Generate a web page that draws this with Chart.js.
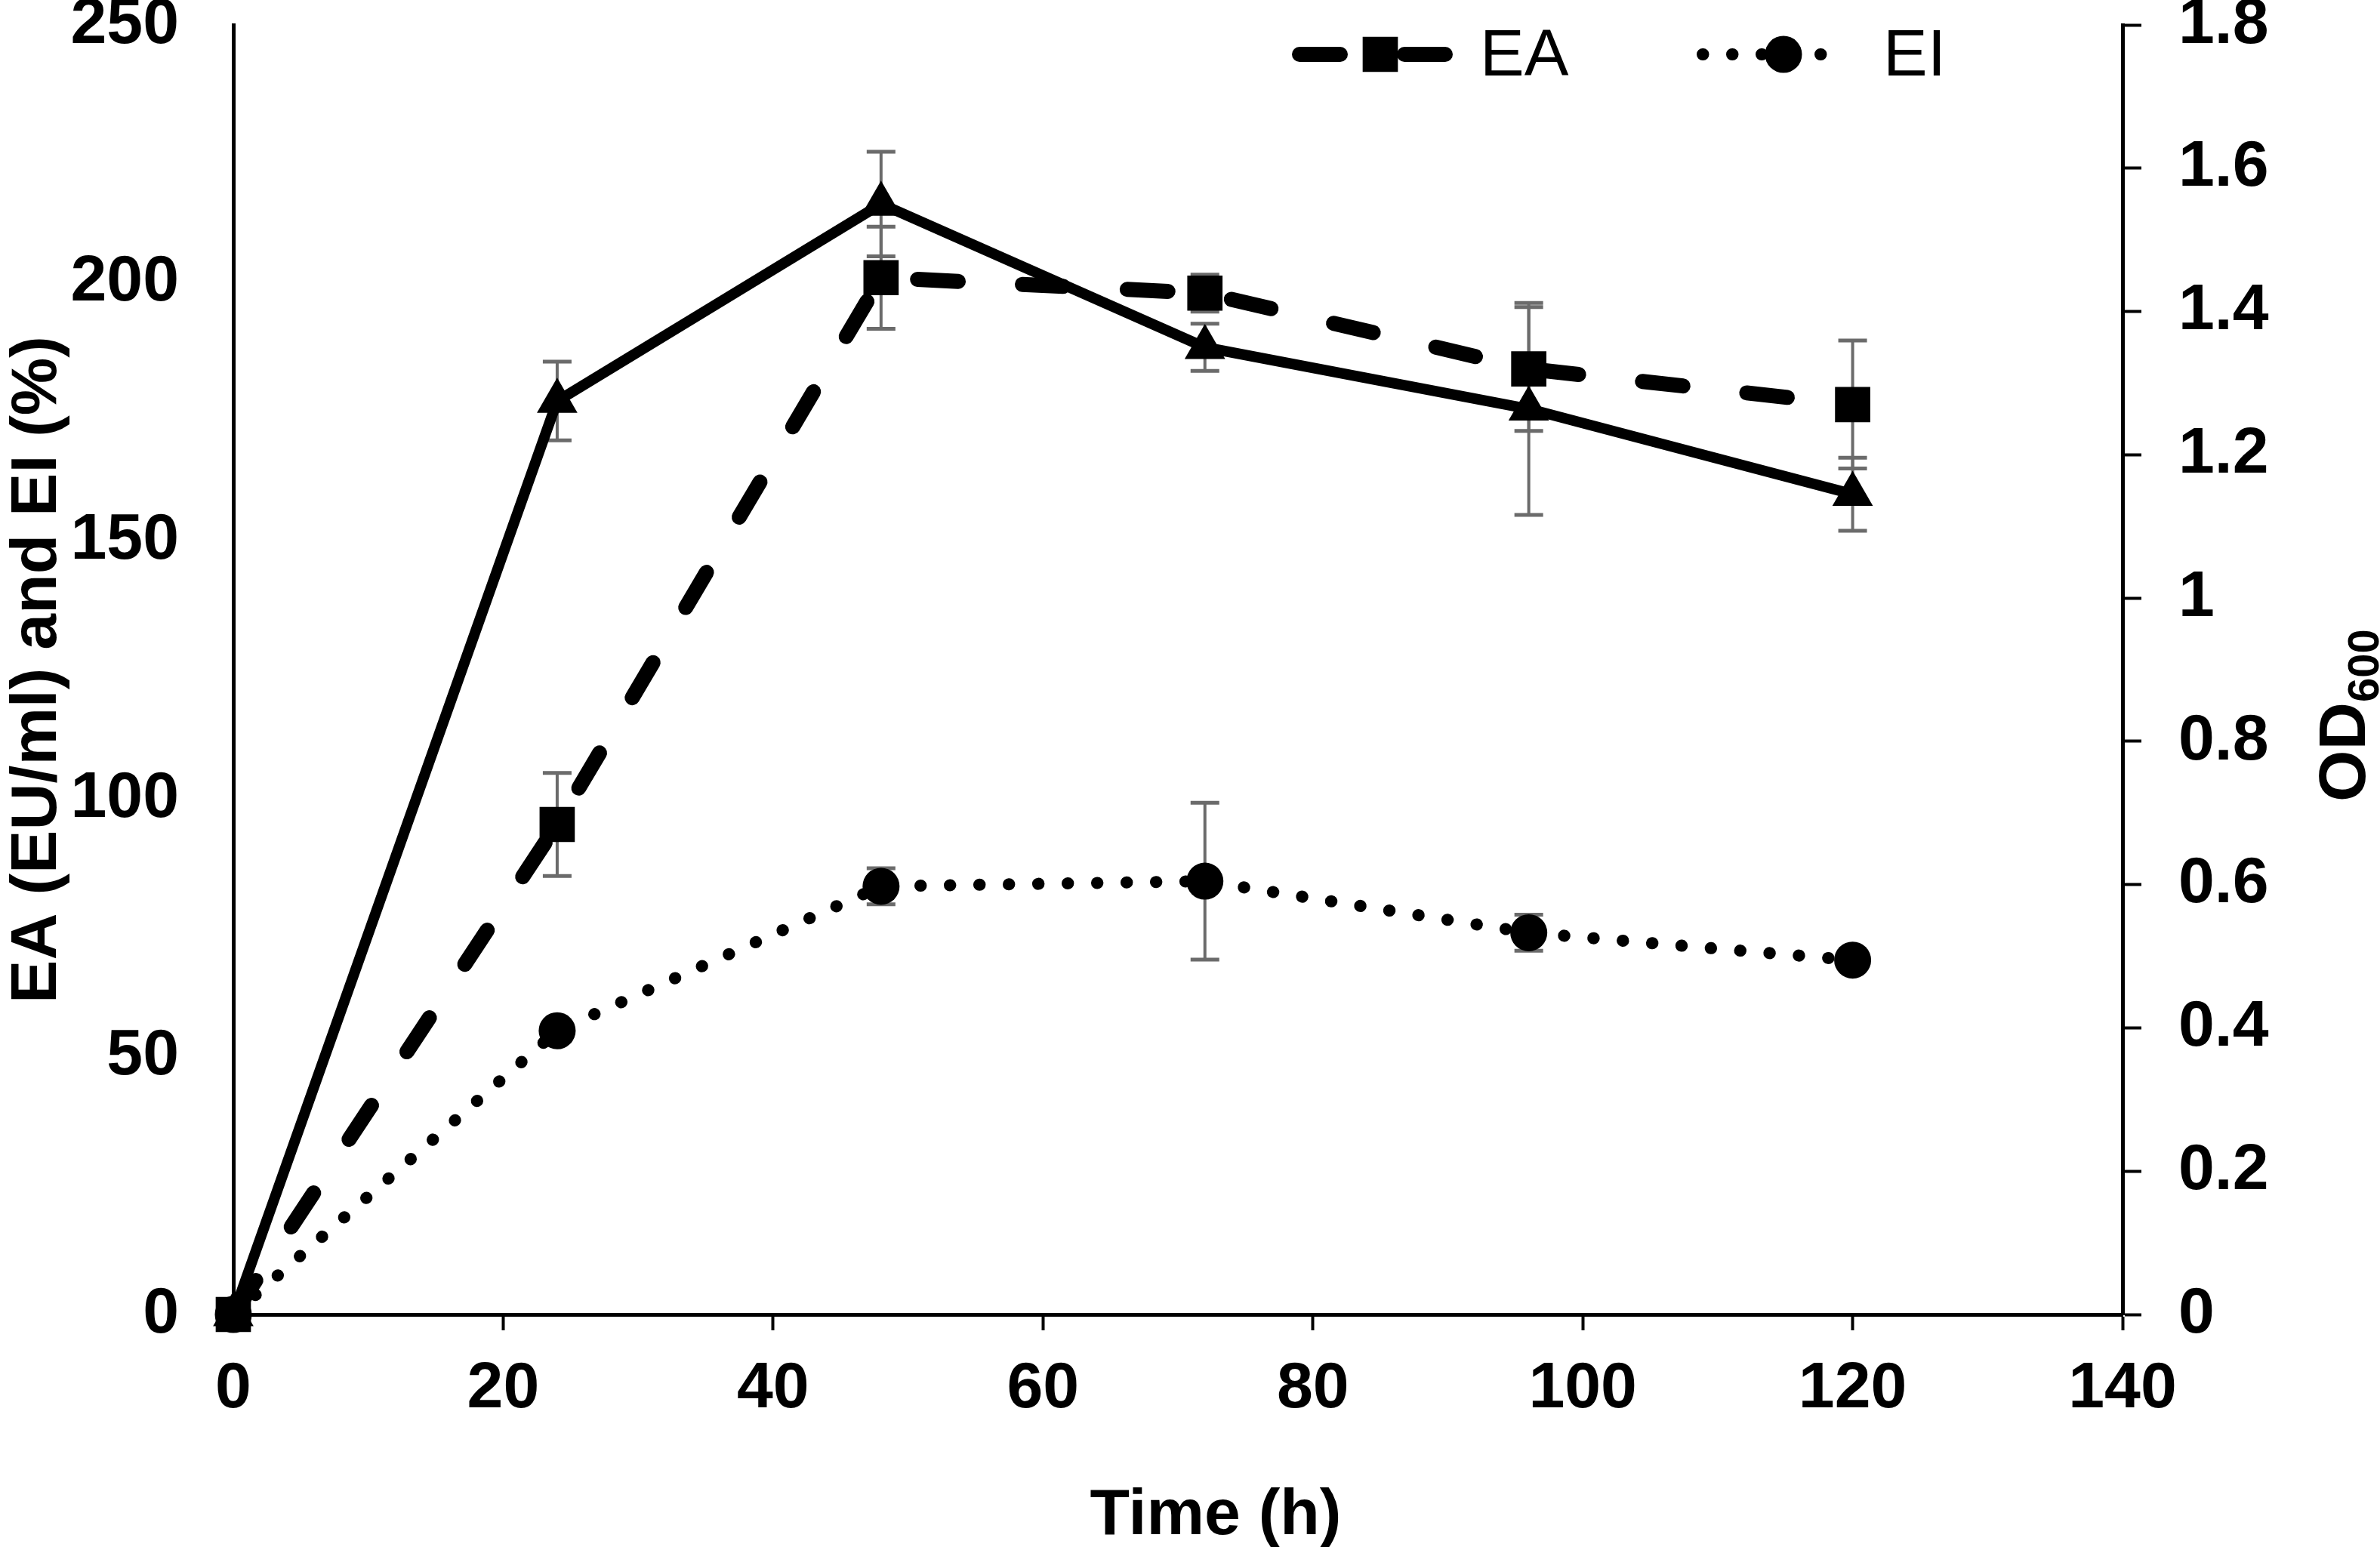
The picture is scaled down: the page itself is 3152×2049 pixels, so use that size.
<!DOCTYPE html>
<html>
<head>
<meta charset="utf-8">
<title>EA, EI and OD600 over time</title>
<script src="https://cdn.jsdelivr.net/npm/chart.js@4.4.1/dist/chart.umd.min.js"></script>
<style>
  html, body { margin: 0; padding: 0; background: #fff; overflow: hidden; }
  #chart { display: block; }
</style>
</head>
<body>
<canvas id="chart" width="3152" height="2049"></canvas>
<script>
// Values
const hours = [0, 24, 48, 72, 96, 120];
const eaValues = [0, 95, 201, 198, 183.3, 176.4];
const eaErrors = [0, 10, 9.9, 3.6, 12, 12.4];
const eiValues = [0, 55, 83, 84, 74, 68.7];
const eiErrors = [0, 2, 3.5, 15.2, 3.5, 1];
const odValues = [0, 1.275, 1.55, 1.35, 1.264, 1.145];
const odErrors = [0, 0.055, 0.073, 0.033, 0.148, 0.051];

// Tick labels
const timeTicks = [0, 20, 40, 60, 80, 100, 120, 140];
const leftTicks = [0, 50, 100, 150, 200, 250];
const rightTicks = [0, 0.2, 0.4, 0.6, 0.8, 1, 1.2, 1.4, 1.6, 1.8];

const FONT = "'Liberation Sans', Arial, sans-serif";
const tickFont = { family: FONT, size: 86, weight: "bold" };

function toPoints(values) {
  return hours.map((h, i) => ({ x: h, y: values[i] }));
}

// keep the plot box fixed: no extra room for overhanging tick labels
function noOverhang(s) {
  s.paddingTop = 0;
  s.paddingBottom = 0;
  s.paddingLeft = 0;
  s.paddingRight = 0;
}

// Grey error bars, drawn under the lines and markers
const errorBars = {
  id: "errorBars",
  beforeDatasetsDraw(chart) {
    const ctx = chart.ctx;
    const xScale = chart.scales.x;
    ctx.save();
    ctx.strokeStyle = "#6b6b6b";
    chart.data.datasets.forEach((ds) => {
      const yScale = chart.scales[ds.yAxisID];
      ds.data.forEach((p, j) => {
        const err = ds.errors[j];
        if (!err) return;
        const px = xScale.getPixelForValue(p.x);
        const top = yScale.getPixelForValue(p.y + err);
        const bottom = yScale.getPixelForValue(p.y - err);
        ctx.lineWidth = 4;
        ctx.beginPath();
        ctx.moveTo(px, top);
        ctx.lineTo(px, bottom);
        ctx.stroke();
        ctx.lineWidth = 5;
        ctx.beginPath();
        ctx.moveTo(px - 19, top);
        ctx.lineTo(px + 19, top);
        ctx.moveTo(px - 19, bottom);
        ctx.lineTo(px + 19, bottom);
        ctx.stroke();
      });
    });
    ctx.restore();
  },
};

// Legend with line + marker samples (only EA and EI, as in the figure)
const lineLegend = {
  id: "lineLegend",
  afterDraw(chart) {
    const ctx = chart.ctx;
    const ea = chart.data.datasets[1];
    const ei = chart.data.datasets[2];
    const items = [
      { ds: ea, x1: 1721, x2: 1914, mx: 1828, tx: 1960 },
      { ds: ei, x1: 2255, x2: 2450, mx: 2362, tx: 2494 },
    ];
    const y = 72;
    ctx.save();
    items.forEach((it) => {
      ctx.strokeStyle = "#000";
      ctx.lineWidth = it.ds.borderWidth;
      ctx.lineCap = it.ds.borderCapStyle;
      ctx.setLineDash(it.ds.borderDash);
      ctx.beginPath();
      ctx.moveTo(it.x1, y);
      ctx.lineTo(it.x2, y);
      ctx.stroke();
      ctx.setLineDash([]);
      ctx.fillStyle = "#000";
      const r = it.ds.pointRadius;
      ctx.beginPath();
      if (it.ds.pointStyle === "rect") {
        const s = r * Math.SQRT1_2;
        ctx.rect(it.mx - s, y - s, 2 * s, 2 * s);
      } else {
        ctx.arc(it.mx, y, r, 0, Math.PI * 2);
      }
      ctx.fill();
      ctx.font = "88px " + FONT;
      ctx.textAlign = "left";
      ctx.textBaseline = "alphabetic";
      ctx.fillText(it.ds.label, it.tx, 100);
    });
    ctx.restore();
  },
};

// Axis titles (the right one needs a subscript)
const axisTitles = {
  id: "axisTitles",
  afterDraw(chart) {
    const ctx = chart.ctx;
    const area = chart.chartArea;
    ctx.save();
    ctx.fillStyle = "#000";
    ctx.textBaseline = "alphabetic";

    // left
    ctx.save();
    ctx.translate(74, (area.top + area.bottom) / 2);
    ctx.rotate(-Math.PI / 2);
    ctx.textAlign = "center";
    ctx.font = "bold 86px " + FONT;
    ctx.fillText("EA (EU/ml) and EI (%)", 0, 0);
    ctx.restore();

    // bottom
    ctx.textAlign = "center";
    ctx.font = "bold 86px " + FONT;
    ctx.fillText("Time (h)", 1610, 2032);

    // right: OD600 with subscript
    ctx.save();
    ctx.translate(3132, 1062);
    ctx.rotate(-Math.PI / 2);
    ctx.textAlign = "left";
    ctx.font = "bold 88px " + FONT;
    ctx.fillText("OD", 0, 0);
    const w = ctx.measureText("OD").width;
    ctx.font = "bold 58px " + FONT;
    ctx.fillText("600", w, 18);
    ctx.restore();

    ctx.restore();
  },
};

Chart.defaults.font.family = FONT;
Chart.defaults.color = "#000";

const ctx = document.getElementById("chart").getContext("2d");
new Chart(ctx, {
  type: "line",
  data: {
    datasets: [
      {
        label: "OD600",
        data: toPoints(odValues),
        errors: odErrors,
        yAxisID: "y1",
        borderColor: "#000",
        borderWidth: 14,
        borderJoinStyle: "round",
        pointStyle: "triangle",
        pointRadius: 31,
        pointHoverRadius: 31,
        pointBackgroundColor: "#000",
        pointBorderWidth: 0,
        tension: 0,
        clip: false,
      },
      {
        label: "EA",
        data: toPoints(eaValues),
        errors: eaErrors,
        yAxisID: "y",
        borderColor: "#000",
        borderWidth: 20,
        borderDash: [54, 85],
        borderCapStyle: "round",
        borderJoinStyle: "round",
        pointStyle: "rect",
        pointRadius: 33,
        pointHoverRadius: 33,
        pointBackgroundColor: "#000",
        pointBorderWidth: 0,
        tension: 0,
        clip: false,
      },
      {
        label: "EI",
        data: toPoints(eiValues),
        errors: eiErrors,
        yAxisID: "y",
        borderColor: "#000",
        borderWidth: 16,
        borderDash: [0.5, 38.5],
        borderCapStyle: "round",
        pointStyle: "circle",
        pointRadius: 24.5,
        pointHoverRadius: 24.5,
        pointBackgroundColor: "#000",
        pointBorderWidth: 0,
        tension: 0,
        clip: false,
      },
    ],
  },
  options: {
    responsive: false,
    animation: false,
    events: [],
    layout: { padding: { top: 33, left: 0, right: 0, bottom: 0 } },
    plugins: {
      legend: { display: false },
      tooltip: { enabled: false },
    },
    scales: {
      x: {
        type: "linear",
        min: 0,
        max: 140,
        afterBuildTicks: (s) => {
          s.ticks = timeTicks.map((v) => ({ value: v }));
        },
        grid: {
          drawOnChartArea: false,
          tickLength: 21,
          tickWidth: 4,
          tickColor: "#000",
        },
        border: { display: true, color: "#000", width: 5 },
        ticks: {
          font: tickFont,
          padding: 27,
          maxRotation: 0,
          autoSkip: false,
          callback: (v) => String(v),
        },
        afterFit: (s) => {
          s.height = 308;
          noOverhang(s);
        },
      },
      y: {
        position: "left",
        min: 0,
        max: 250,
        afterBuildTicks: (s) => {
          s.ticks = leftTicks.map((v) => ({ value: v }));
        },
        grid: { display: false, drawTicks: false },
        border: { display: true, color: "#000", width: 5 },
        ticks: { font: tickFont, padding: 72, callback: (v) => String(v) },
        afterFit: (s) => {
          s.width = 309;
          noOverhang(s);
        },
      },
      y1: {
        position: "right",
        min: 0,
        max: 1.8,
        afterBuildTicks: (s) => {
          s.ticks = rightTicks.map((v) => ({ value: v }));
        },
        grid: {
          drawOnChartArea: false,
          tickLength: 25,
          tickWidth: 4,
          tickColor: "#000",
        },
        border: { display: true, color: "#000", width: 5 },
        ticks: { font: tickFont, padding: 49, callback: (v) => String(v) },
        afterFit: (s) => {
          s.width = 3152 - 2811;
          noOverhang(s);
        },
      },
    },
  },
  plugins: [errorBars, lineLegend, axisTitles],
});
</script>
</body>
</html>
